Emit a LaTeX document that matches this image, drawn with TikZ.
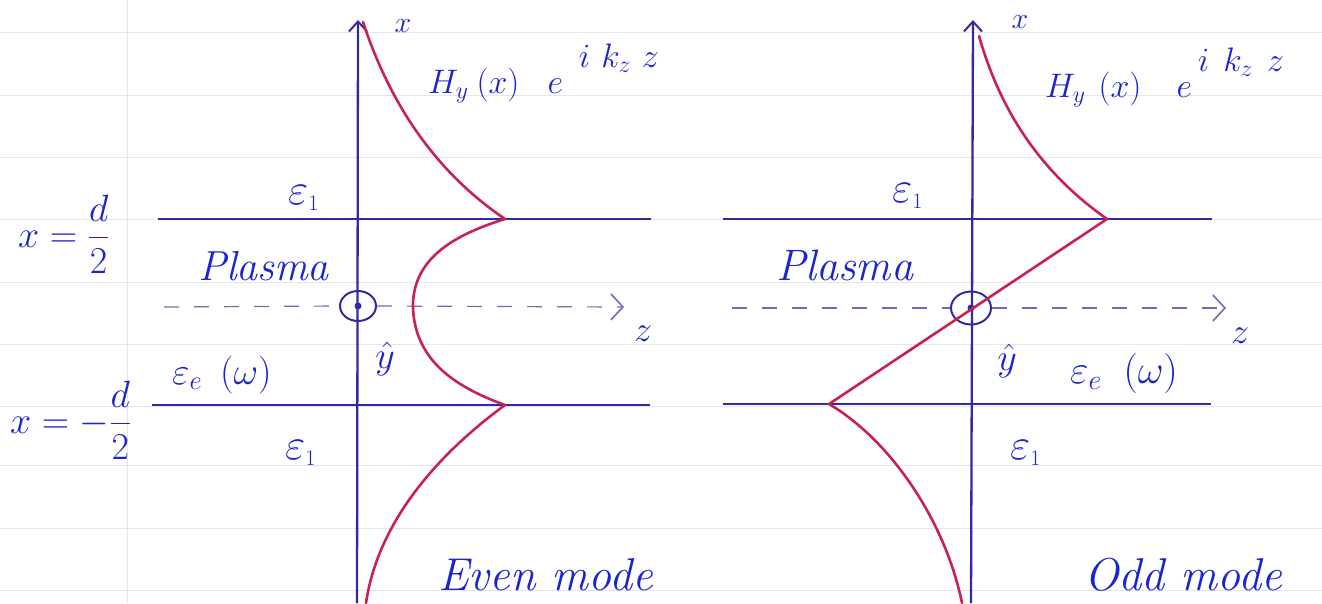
\RequirePackage{fix-cm}
\documentclass[tikz,border=0pt]{standalone}
\usepackage{graphicx}
\usetikzlibrary{arrows.meta,shapes.geometric}
\definecolor{ink}{RGB}{28,36,205}
\definecolor{axisc}{RGB}{52,42,160}
\definecolor{redink}{RGB}{200,35,80}
\definecolor{rulec}{RGB}{228,230,236}
% H_y(x) e^{i k_z z} with hand-written spacing: #1..#4 are the gaps
\newcommand{\Hfield}[4]{$H_y\hspace{#1}(x)\hspace{#2}e\hspace{#3}\raisebox{26pt}{$i\hspace{#4}k_z\hspace{#4}z$}$}
\begin{document}
\begin{tikzpicture}[x=1pt,y=1pt,
  axisline/.style={draw=axisc, line width=2.3pt},
  axisarrow/.style={axisline, -{Straight Barb[length=10pt,width=18pt,line width=2pt]}},
  field/.style={draw=redink, line width=2.6pt, line join=round, line cap=round},
  dashz/.style={draw=axisc!70, line width=1.2pt, dash pattern=on 15pt off 15pt},
  zarrow/.style={dashz, -{Straight Barb[length=12pt,width=26pt,line width=1.6pt]}},
  lbl/.style={text=ink, inner sep=0pt, font=\fontsize{34}{40}\selectfont},
  eps/.style={text=ink, inner sep=0pt, font=\fontsize{44}{50}\selectfont},
  word/.style={text=ink, inner sep=0pt, font=\fontsize{42}{48}\selectfont\itshape},
  ruling/.style={draw=rulec, line width=1pt},
  yhat/.style={draw=axisc, line width=2pt, ellipse, minimum width=36pt, minimum height=30pt, inner sep=0pt}]
\useasboundingbox (0,0) rectangle (1322,-603);
\fill[white] (0,0) rectangle (1322,-603);
% notebook ruling
\foreach \yy in {32,95,157,219,282,344,406,465,528,590}
  \draw[ruling] (0,-\yy) -- (1322,-\yy);
\draw[ruling] (127,0) -- (127,-603);

% ================= LEFT: even mode =================
\coordinate (lab) at (357,-603);
\coordinate (lat) at (358,-20);
\coordinate (lt1) at (158,-219);
\coordinate (lt2) at (651,-219);
\coordinate (lb1) at (152,-405);
\coordinate (lb2) at (650,-405);
\coordinate (ld1) at (164,-307);
\coordinate (ld2) at (624,-307);
\node[yhat] (lc) at (358,-306) {};
\fill[axisc] (lc.center) circle (3.5);
\draw[axisline] (lt1) -- (lt2);
\draw[axisline] (lb1) -- (lb2);
\draw[axisarrow] (lab) -- (lat);
\draw[dashz] (ld1) -- (lc.west);
\draw[zarrow] (lc.east) -- (ld2);
% field
\draw[field] (363,-22) .. controls (392,-110) and (440,-175) .. (505,-219);
\draw[field] plot[domain=1:0,samples=40] ({413+92*(cosh(2.6*\x)-1)/5.77},{-305+86*\x})
   -- plot[domain=0:1,samples=40] ({413+92*(cosh(2.6*\x)-1)/5.77},{-305-100*\x});
\draw[field] (505,-405) .. controls (437,-455) and (378,-522) .. (366,-603);
% labels
\node[lbl, font=\fontsize{30}{36}\selectfont] (lxl) at (403,-26) {$x$};
\node[lbl, anchor=base west] (lH) at (428,-93) {\Hfield{8pt}{28pt}{16pt}{11pt}};
\node[eps, anchor=base west] (le1) at (288,-204) {$\varepsilon_{\scriptscriptstyle 1}$};
\node[word, anchor=base west] (lpl) at (198,-280) {Plasma};
\node[lbl, anchor=base west, font=\fontsize{38}{44}\selectfont] (lee) at (172,-384) {$\varepsilon_{e}\hspace{18pt}(\omega)$};
\node[eps, anchor=base west] (le2) at (285,-459) {$\varepsilon_{\scriptscriptstyle 1}$};
\node[lbl, font=\fontsize{38}{44}\selectfont] (lyh) at (385,-359) {$\hat{y}$};
\node[lbl, font=\fontsize{36}{40}\selectfont] (lz) at (643,-334) {$z$};
\node[lbl, anchor=west, font=\fontsize{38}{44}\selectfont] (lxd) at (18,-234) {$\displaystyle x = \frac{d}{2}$};
\node[lbl, anchor=west, font=\fontsize{38}{44}\selectfont] (lxm) at (10,-420) {$\displaystyle x = -\frac{d}{2}$};
\node[word, anchor=base west, font=\fontsize{46}{52}\selectfont\itshape] (lmode) at (438,-590) {Even mode};

% ================= RIGHT: odd mode =================
\coordinate (rab) at (971,-603);
\coordinate (rat) at (973,-20);
\coordinate (rt1) at (723,-219);
\coordinate (rt2) at (1212,-219);
\coordinate (rb1) at (723,-404);
\coordinate (rb2) at (1211,-404);
\coordinate (rd1) at (732,-308);
\coordinate (rd2) at (1226,-308);
\node[yhat, minimum width=40pt, minimum height=33pt] (rc) at (971,-308) {};
\fill[axisc] (rc.center) circle (3.5);
\draw[axisline] (rt1) -- (rt2);
\draw[axisline] (rb1) -- (rb2);
\draw[axisarrow] (rab) -- (rat);
\draw[dashz] (rd1) -- (rc.west);
\draw[zarrow] (rc.east) -- (rd2);
% field
\coordinate (rp1) at (1107,-219);
\coordinate (rp2) at (829,-404);
\draw[field] (979,-36) .. controls (1000,-110) and (1040,-172) .. (rp1);
\draw[field] (rp1) -- (rp2);
\draw[field] (rp2) .. controls (890,-440) and (945,-520) .. (962,-603);
% labels
\node[lbl, font=\fontsize{30}{36}\selectfont] (rxl) at (1020,-22) {$x$};
\node[lbl, anchor=base west] (rH) at (1045,-97) {\Hfield{13pt}{35pt}{6pt}{14pt}};
\node[eps, anchor=base west] (re1) at (892,-202) {$\varepsilon_{\scriptscriptstyle 1}$};
\node[word, anchor=base west, font=\fontsize{44}{50}\selectfont\itshape] (rpl) at (776,-280) {Plasma};
\node[lbl, anchor=base west, font=\fontsize{40}{46}\selectfont] (ree) at (1070,-383) {$\varepsilon_{e}\hspace{22pt}(\omega)$};
\node[eps, anchor=base west] (re2) at (1010,-459) {$\varepsilon_{\scriptscriptstyle 1}$};
\node[lbl, font=\fontsize{38}{44}\selectfont] (ryh) at (1007,-361) {$\hat{y}$};
\node[lbl, font=\fontsize{36}{40}\selectfont] (rz) at (1240,-336) {$z$};
\node[word, anchor=base west, font=\fontsize{46}{52}\selectfont\itshape] (rmode) at (1084,-590) {Odd mode};
\end{tikzpicture}
\end{document}
